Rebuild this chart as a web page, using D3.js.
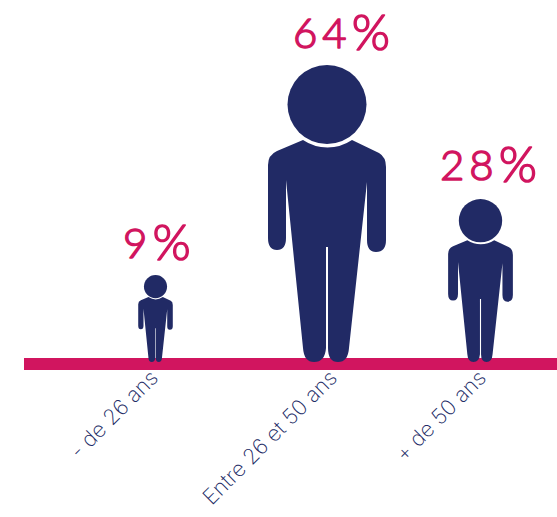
<!DOCTYPE html>
<html>
<head>
<meta charset="utf-8">
<script src="https://cdn.jsdelivr.net/npm/d3@7"></script>
<style>
  html, body { margin: 0; padding: 0; background: #fff; }
  svg { display: block; }
</style>
</head>
<body>
<svg></svg>
<script>
const categories = ["- de 26 ans", "Entre 26 et 50 ans", "+ de 50 ans"];
const values = [9, 64, 28];
const labels = ["9", "64", "28"];

const width = 557, height = 517;
const navy = "#212a65", pink = "#d1155f";
const baseline = 362;

const svg = d3.select("svg").attr("width", width).attr("height", height);

// positions are not evenly spaced in the original
const x = d3.scaleOrdinal().domain(categories).range([155.5, 327, 480.5]);
const labelX = d3.scaleOrdinal().domain(categories).range([154, 333, 482]);
// figure height, reads almost linear from the three figures
const h = d3.scaleLinear().domain([9, 28, 64]).range([87, 163, 297]);

// the person icon, drawn at its full 297px height with origin at the feet
const bodyPath = [
  "M-24,-222", "A44,44 0 0 0 25,-222",
  "L52,-209", "Q59,-205 59,-195",
  "L59,-122", "Q59,-110 49,-110", "Q40,-110 40,-122",
  "L40,-180", "L22,-14", "Q21,0 11,0", "Q1,0 1,-14",
  "L1,-115", "L-1,-115", "L-1,-14", "Q-2,0 -13,0", "Q-23,0 -24,-14",
  "L-41,-182", "L-41,-124", "Q-41,-112 -50,-112", "Q-59,-112 -59,-124",
  "L-59,-197", "Q-59,-207 -50,-211", "Z"
].join(" ");

// baseline band
svg.append("rect")
  .attr("x", 24).attr("y", 358)
  .attr("width", width - 24).attr("height", 12)
  .attr("fill", pink);

const person = svg.selectAll("g.person")
  .data(categories)
  .enter().append("g")
  .attr("class", "person")
  .attr("transform", (d, i) => `translate(${x(d)},${baseline}) scale(${h(values[i]) / 297})`);

person.append("circle")
  .attr("cx", 0).attr("cy", -257.5).attr("r", 39.5)
  .attr("fill", navy);

person.append("path")
  .attr("d", bodyPath)
  .attr("fill", navy);

// rotated category labels
svg.selectAll("text.cat")
  .data(categories)
  .enter().append("text")
  .attr("class", "cat")
  .attr("transform", d => `translate(${labelX(d)},374) rotate(-45)`)
  .attr("text-anchor", "end")
  .attr("dy", "0.35em")
  .style("font-family", "Inter, Lato, sans-serif")
  .style("font-weight", 200)
  .style("font-size", "21.5px")
  .attr("fill", navy)
  .text(d => d);

// hand-drawn looking percentages, the % sign is taller than the digits
const labelPos = [[123, 258], [293, 48], [440, 180]];
const pct = svg.selectAll("text.pct")
  .data(labels)
  .enter().append("text")
  .attr("class", "pct")
  .attr("x", (d, i) => labelPos[i][0])
  .attr("y", (d, i) => labelPos[i][1])
  .style("font-family", "Lato, 'Open Sans', sans-serif")
  .style("font-weight", 300)
  .attr("fill", pink)
  .attr("stroke", pink)
  .attr("stroke-width", 1.5)
  .attr("stroke-linejoin", "round");

pct.append("tspan")
  .style("font-size", "42px")
  .style("letter-spacing", "5px")
  .text(d => d);

pct.append("tspan")
  .attr("dy", 2)
  .style("font-size", "49px")
  .text("%");
</script>
</body>
</html>
